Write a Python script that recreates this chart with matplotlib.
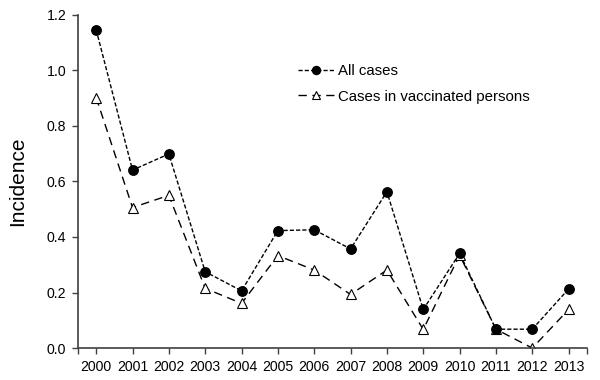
import matplotlib
matplotlib.use('Agg')
import matplotlib.pyplot as plt

plt.rcParams['font.family'] = ['Liberation Sans', 'DejaVu Sans']

years = [2000, 2001, 2002, 2003, 2004, 2005, 2006, 2007, 2008, 2009, 2010, 2011, 2012, 2013]
all_cases = [1.146, 0.641, 0.699, 0.275, 0.206, 0.423, 0.426, 0.357, 0.563, 0.139, 0.341, 0.068, 0.068, 0.213]
vaccinated = [0.902, 0.506, 0.550, 0.215, 0.161, 0.333, 0.281, 0.193, 0.281, 0.067, 0.335, 0.068, 0.0, 0.139]

fig = plt.figure(figsize=(6, 3.8), dpi=100)
ax = fig.add_axes([0.13, 0.084, 0.848, 0.877])

ax.plot(years, all_cases, color='black', lw=1, linestyle=(0, (3, 1.5)),
        marker='o', markersize=6.8, markerfacecolor='black', label='All cases', zorder=3)
ax.plot(years, vaccinated, color='black', lw=1, linestyle=(0, (6, 4)),
        marker='^', markersize=7, markerfacecolor='white', markeredgewidth=0.8,
        label='Cases in vaccinated persons', zorder=2)

ax.set_xlim(1999.5, 2013.5)
ax.set_ylim(0, 1.2)
ax.set_xticks(years)
ax.set_xticks([1999.5, 2013.5], minor=True)
ax.set_yticks([0, 0.2, 0.4, 0.6, 0.8, 1.0, 1.2])
ax.set_yticklabels(['0.0', '0.2', '0.4', '0.6', '0.8', '1.0', '1.2'])
ax.tick_params(axis='both', which='both', direction='out', length=4, width=1,
               labelsize=10.2, colors='#404040', labelcolor='black', pad=4.5)
ax.set_ylabel('Incidence', fontsize=15, labelpad=14)

for s in ['top', 'right']:
    ax.spines[s].set_visible(False)
for s in ['left', 'bottom']:
    ax.spines[s].set_color('#404040')
    ax.spines[s].set_linewidth(1.2)

leg = ax.legend(loc='upper left', bbox_to_anchor=(0.474, 0.866), bbox_transform=fig.transFigure,
                frameon=False, fontsize=10.8, handlelength=2.4, handletextpad=0.3,
                labelspacing=0.75, markerscale=0.85)

fig.savefig('out.png', dpi=100)
